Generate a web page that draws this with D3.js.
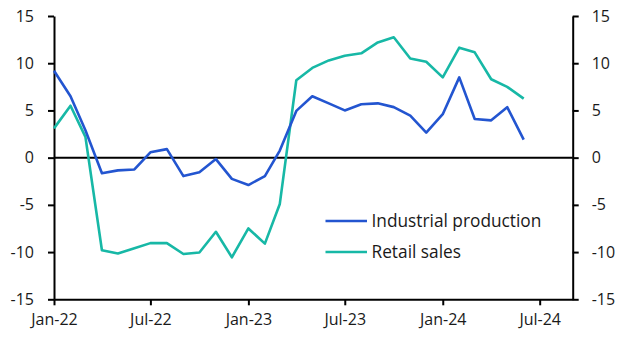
<!DOCTYPE html>
<html><head><meta charset="utf-8">
<script src="https://cdn.jsdelivr.net/npm/d3@7"></script>
<style>body{margin:0;background:#fff}svg{display:block}text{font-family:"Open Sans",sans-serif;fill:#1a1a1a}</style>
</head><body><svg id="c" width="625" height="338"></svg>
<script>
const startMonth = "2022-01";
const industrialProduction = [9.2,6.5,2.9,-1.65,-1.35,-1.25,0.57,0.9,-1.95,-1.55,-0.15,-2.25,-2.9,-1.95,0.75,4.95,6.5,5.75,5.0,5.65,5.75,5.35,4.45,2.65,4.6,8.5,4.1,3.95,5.35,1.9];
const retailSales = [3.1,5.5,2.2,-9.8,-10.15,-9.6,-9.05,-9.05,-10.2,-10.05,-7.85,-10.55,-7.5,-9.1,-4.9,8.2,9.5,10.3,10.8,11.05,12.2,12.75,10.5,10.15,8.5,11.65,11.15,8.3,7.5,6.25];
const yTicks = [-15,-10,-5,0,5,10,15];
const xTickLabels = ["Jan-22","Jul-22","Jan-23","Jul-23","Jan-24","Jul-24"];
const seriesNames = ["Industrial production","Retail sales"];
const colors = ["#2355d0","#17b8a6"];

const svg = d3.select("#c");
const L=54, R=572.7, T=16, B=299.3;
const parse = d3.timeParse("%Y-%m");
const fmt = d3.timeFormat("%b-%y");
const t0 = parse(startMonth);
const dates = industrialProduction.map((_,i)=>d3.timeMonth.offset(t0,i));
const x = d3.scaleTime().domain([t0, new Date(2024,8,1)]).range([L,R]);
const y = d3.scaleLinear().domain([-15,15]).range([B,T]);
const yFmt = d => (d<0 ? "-" : "") + Math.abs(d);

function style(g){
  g.select(".domain").attr("stroke","#000").attr("stroke-width",2);
  g.selectAll(".tick line").attr("stroke","#000").attr("stroke-width",2);
  g.selectAll("text").attr("font-size",16).attr("fill","#1a1a1a").attr("font-family",'"Open Sans",sans-serif');
}

// x axis
const xTickDates = xTickLabels.map(s=>d3.timeParse("%b-%y")(s));
const xa = svg.append("g").attr("transform",`translate(0,${B})`)
  .call(d3.axisBottom(x).tickValues(xTickDates).tickFormat(fmt).tickSize(6).tickPadding(8).tickSizeOuter(0));
style(xa);

// left axis
const ya = svg.append("g").attr("transform",`translate(${L},0)`)
  .call(d3.axisLeft(y).tickValues(yTicks).tickFormat(yFmt).tickSize(6).tickPadding(14).tickSizeOuter(0));
style(ya);

const yb = svg.append("g").attr("transform",`translate(${R},0)`)
  .call(d3.axisRight(y).tickValues(yTicks).tickFormat(yFmt).tickSize(6).tickPadding(13).tickSizeOuter(0));
style(yb);

// zero line
svg.append("line").attr("x1",L).attr("x2",R).attr("y1",y(0)).attr("y2",y(0)).attr("stroke","#000").attr("stroke-width",2);

const line = d3.line().x((d,i)=>x(dates[i])).y(d=>y(d));
[retailSales, industrialProduction].forEach((s,k)=>{
  svg.append("path").datum(s).attr("d",line).attr("fill","none")
    .attr("stroke", colors[1-k]).attr("stroke-width",2.6).attr("stroke-linejoin","round");
});

// legend
seriesNames.forEach((n,i)=>{
  const yy = 221 + i*31;
  svg.append("line").attr("x1",325.5).attr("x2",367).attr("y1",yy).attr("y2",yy).attr("stroke",colors[i]).attr("stroke-width",2.6);
  svg.append("text").attr("x",371.5).attr("y",yy).attr("dy","0.35em").attr("font-size",17.3).text(n);
});
</script></body></html>
